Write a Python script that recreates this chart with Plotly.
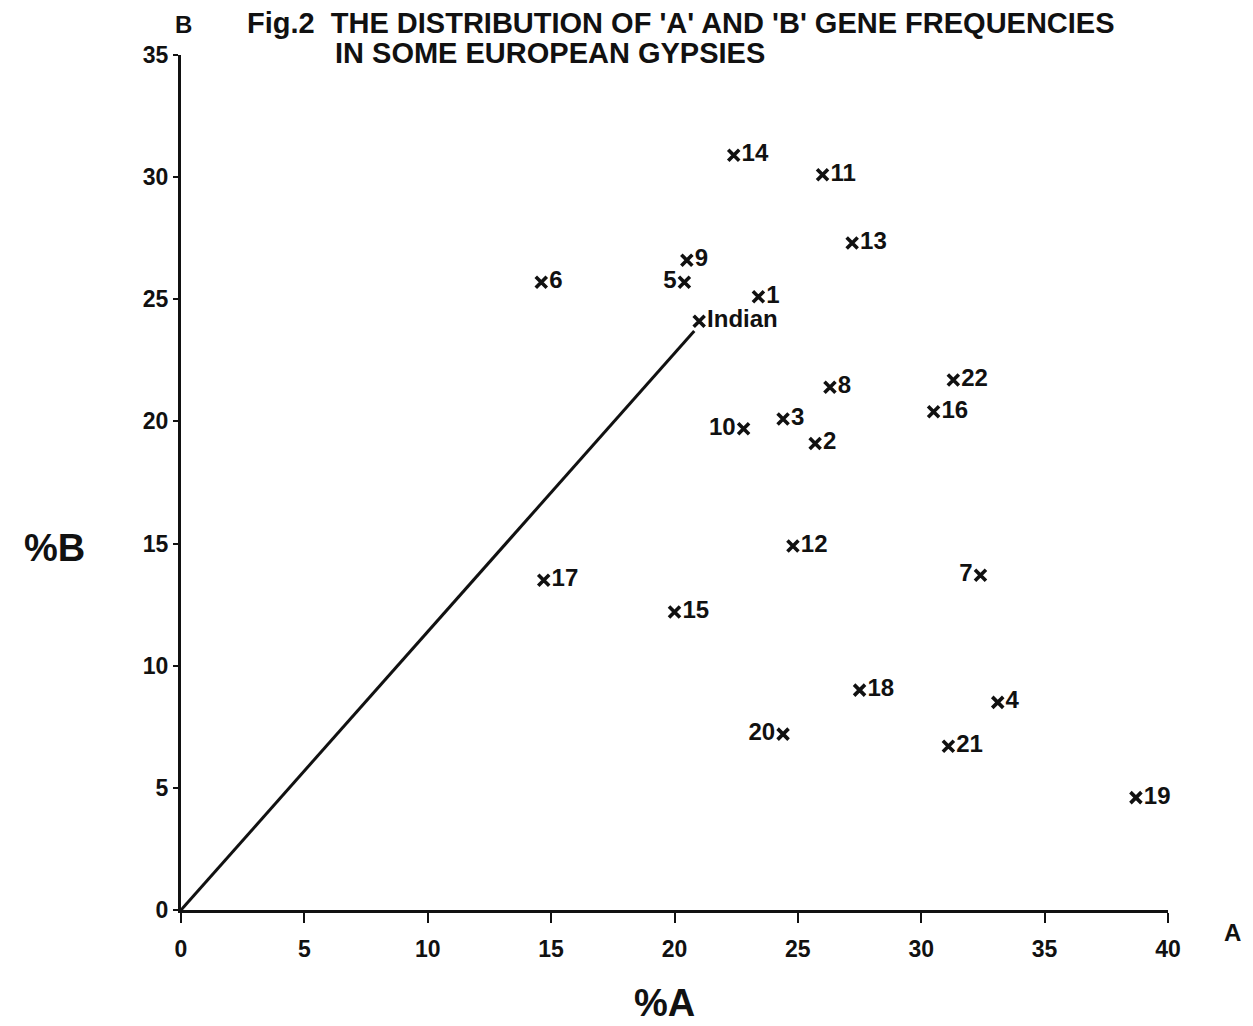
import plotly.graph_objects as go

# Data (% A, % B) for each population
labels = ["1", "2", "3", "4", "5", "6", "7", "8", "9", "10", "11",
          "12", "13", "14", "15", "16", "17", "18", "19", "20", "21", "22"]
pct_a = [23.4, 25.7, 24.4, 33.1, 20.4, 14.6, 32.4, 26.3, 20.5, 22.8, 26.0,
         24.8, 27.2, 22.4, 20.0, 30.5, 14.7, 27.5, 38.7, 24.4, 31.1, 31.3]
pct_b = [25.1, 19.1, 20.1, 8.5, 25.7, 25.7, 13.7, 21.4, 26.6, 19.7, 30.1,
         14.9, 27.3, 30.9, 12.2, 20.4, 13.5, 9.0, 4.6, 7.2, 6.7, 21.7]
label_left = ["5", "7", "10", "20"]

indian_a = [21.0]
indian_b = [24.1]

line_a = [0, 20.8]
line_b = [0, 23.7]

x_ticks = [0, 5, 10, 15, 20, 25, 30, 35, 40]
y_ticks = [0, 5, 10, 15, 20, 25, 30, 35]

FONT = "Liberation Sans"
ink = "#111111"

fig = go.Figure()

fig.add_trace(go.Scatter(x=line_a, y=line_b, mode="lines",
                         line=dict(color=ink, width=3), showlegend=False,
                         hoverinfo="skip", cliponaxis=False))

positions = ["middle left" if l in label_left else "middle right" for l in labels]
fig.add_trace(go.Scatter(
    x=pct_a, y=pct_b, mode="markers+text", text=labels,
    textposition=positions, cliponaxis=False,
    textfont=dict(family=FONT, size=24, color=ink, weight="bold"),
    marker=dict(symbol="x-thin", size=11, line=dict(color=ink, width=3.6)),
    showlegend=False))

fig.add_trace(go.Scatter(
    x=indian_a, y=indian_b, mode="markers+text", text=["Indian"],
    textposition="middle right", cliponaxis=False,
    textfont=dict(family=FONT, size=24, color=ink, weight="bold"),
    marker=dict(symbol="x-thin", size=11, line=dict(color=ink, width=3.6)),
    showlegend=False))

axis_common = dict(showgrid=False, zeroline=False, showline=True,
                   linecolor=ink, linewidth=3, ticks="outside",
                   tickwidth=2, tickcolor=ink,
                   tickfont=dict(family=FONT, size=23, color=ink, weight="bold"))

fig.update_xaxes(range=[0, 40], tickvals=x_ticks, ticklen=10,
                 ticklabelstandoff=6, **axis_common)
fig.update_yaxes(range=[0, 35], tickvals=y_ticks, ticklen=5,
                 ticklabelstandoff=0, **axis_common)

def ann(text, x, y, size, xanchor="center", yanchor="middle"):
    fig.add_annotation(text=text, x=x, y=y, xref="paper", yref="paper",
                       showarrow=False, xanchor=xanchor, yanchor=yanchor,
                       font=dict(family=FONT, size=size, color=ink, weight="bold"))

ann("Fig.2  THE DISTRIBUTION OF 'A' AND 'B' GENE FREQUENCIES", 0.065, 1.038, 29, xanchor="left")
ann("IN SOME EUROPEAN GYPSIES", 0.154, 1.0025, 29, xanchor="left")
ann("B", 0.003, 1.036, 24)
ann("A", 1.065, -0.026, 24)
ann("%A", 0.49, -0.109, 38)
ann("%B", -0.128, 0.423, 38)

fig.update_layout(width=1245, height=1018,
                  margin=dict(l=173, r=85, t=47, b=116),
                  plot_bgcolor="white", paper_bgcolor="white")

fig.write_html("out.html")
